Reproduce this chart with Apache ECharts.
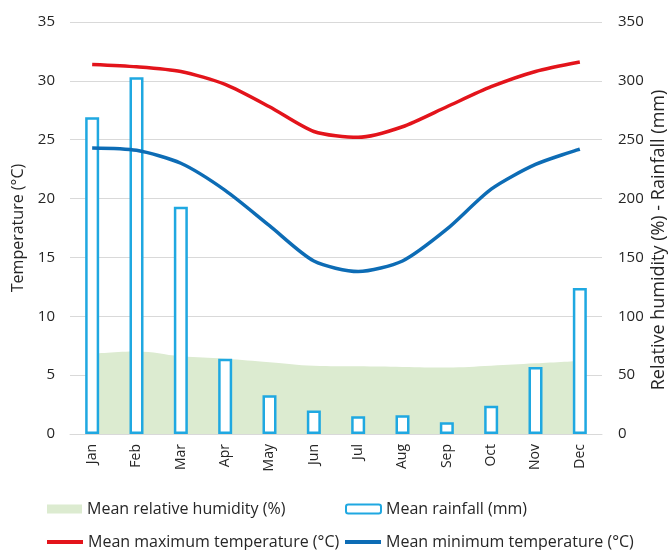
<!DOCTYPE html>
<html><head><meta charset="utf-8">
<script src="https://cdn.jsdelivr.net/npm/echarts@6/dist/echarts.min.js"></script>
<style>html,body{margin:0;padding:0;background:#fff}#c{width:671px;height:550px}</style>
</head><body><div id="c"></div>
<script>
const months = ['Jan','Feb','Mar','Apr','May','Jun','Jul','Aug','Sep','Oct','Nov','Dec'];
const maxTemp = [31.4, 31.2, 30.8, 29.7, 27.8, 25.7, 25.2, 26.1, 27.8, 29.5, 30.8, 31.6];
const minTemp = [24.3, 24.1, 23.0, 20.7, 17.7, 14.7, 13.8, 14.7, 17.4, 20.8, 22.9, 24.2];
const rainfall = [269, 303, 193, 64, 33, 20, 15, 16, 10, 24, 57, 124];
const humidity = [68, 70, 66, 64, 61, 58, 57.5, 57, 56.5, 58, 60, 62];
const leftTicks = [0, 35, 5];
const rightTicks = [0, 350, 50];

const FONT = '"Open Sans", sans-serif';
const txt = {color:'#262626', fontFamily:FONT, fontSize:15};
const chart = echarts.init(document.getElementById('c'));
function lg(name, left, top, extra) {
  return Object.assign({data:[name], left:left, top:top, itemWidth:35, itemHeight:9, itemGap:0,
    textStyle:Object.assign({}, txt, {fontSize:16}), padding:0}, extra||{});
}
chart.setOption({
  animation:false,
  grid:{left:70, right:69, top:22, bottom:116, outerBoundsMode:'none', containLabel:false},
  legend:[
    lg('Mean relative humidity (%)', 47, 501, {icon:'rect'}),
    lg('Mean rainfall (mm)', 345, 501),
    lg('Mean maximum temperature (°C)', 47, 534, {icon:'rect', itemHeight:4, itemWidth:36}),
    lg('Mean minimum temperature (°C)', 345, 534, {icon:'rect', itemHeight:4, itemWidth:36})
  ],
  xAxis:{type:'category', data:months, boundaryGap:true,
    axisLine:{lineStyle:{color:'#d9d9d9', width:1}}, axisTick:{show:false},
    axisLabel:Object.assign({}, txt, {rotate:90, margin:10, fontSize:14})},
  yAxis:[
    {type:'value', min:leftTicks[0], max:leftTicks[1], interval:leftTicks[2],
     name:'Temperature (°C)', nameLocation:'middle', nameGap:44, nameRotate:90,
     nameMoveOverlap:false,
     nameTextStyle:Object.assign({}, txt, {fontSize:16}),
     axisLabel:Object.assign({}, txt, {margin:15}),
     splitLine:{lineStyle:{color:'#d9d9d9'}}, axisLine:{show:false}, axisTick:{show:false}},
    {type:'value', min:rightTicks[0], max:rightTicks[1], interval:rightTicks[2],
     name:'Relative humidity (%) - Rainfall (mm)', nameLocation:'middle', nameGap:48, nameRotate:90,
     nameMoveOverlap:false,
     nameTextStyle:Object.assign({}, txt, {fontSize:18, padding:[0,24,0,0]}),
     axisLabel:Object.assign({}, txt, {margin:16}),
     splitLine:{show:false}, axisLine:{show:false}, axisTick:{show:false}},
  ],
  series:[
    {name:'Mean relative humidity (%)', type:'line', yAxisIndex:1, data:humidity, smooth:0.4,
     symbol:'none', lineStyle:{width:0}, itemStyle:{color:'#dcebd0'},
     areaStyle:{color:'#dcebd0', opacity:1}, z:1},
    {name:'Mean rainfall (mm)', type:'bar', yAxisIndex:1, data:rainfall, barWidth:14,
     itemStyle:{color:'#ffffff', borderColor:'#1fa8e1', borderWidth:2.5}, z:2},
    {name:'Mean maximum temperature (°C)', type:'line', yAxisIndex:0, data:maxTemp, smooth:0.25,
     symbol:'none', lineStyle:{width:3.5, color:'#e3141b'}, itemStyle:{color:'#e3141b'}, z:3},
    {name:'Mean minimum temperature (°C)', type:'line', yAxisIndex:0, data:minTemp, smooth:0.25,
     symbol:'none', lineStyle:{width:3.5, color:'#0d6cb5'}, itemStyle:{color:'#0d6cb5'}, z:3}
  ]
});
</script></body></html>
